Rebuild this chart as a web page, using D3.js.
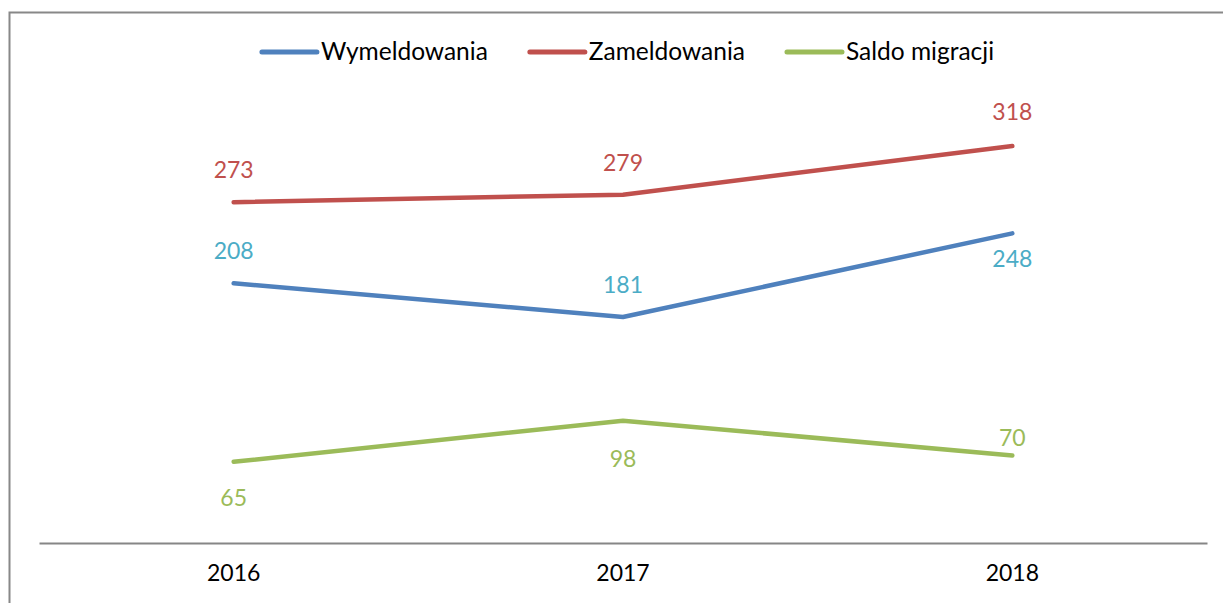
<!DOCTYPE html>
<html>
<head>
<meta charset="utf-8">
<script src="https://cdn.jsdelivr.net/npm/d3@7"></script>
<style>
  body { margin: 0; background: #fff; }
  text { font-family: Lato, "Open Sans", sans-serif; }
</style>
</head>
<body>
<svg id="chart"></svg>
<script>
var years = ["2016", "2017", "2018"];
var seriesNames = ["Wymeldowania", "Zameldowania", "Saldo migracji"];
var wymeldowania = [208, 181, 248];
var zameldowania = [273, 279, 318];
var saldo = [65, 98, 70];

var lineColors = ["#4F81BD", "#C0504D", "#9BBB59"],
    labelColors = ["#4BACC6", "#C0504D", "#9BBB59"],
    // baseline offset of each data label from its point
    labelDy = [[-24, -24, 34], [-24, -24, -26], [44, 46, -10]];

var width = 1223, height = 603;
var plot = {left: 39, right: 1207, top: 106, bottom: 543};

var svg = d3.select("#chart")
    .attr('width', width)
    .attr('height', height);

// outer chart frame
svg.append("rect")
    .attr('x', 9.5).attr('y', 12.5)
    .attr('width', 1240).attr('height', 620)
    .style('fill', "none")
    .style('stroke', "#888")
    .style('stroke-width', "2px");

var x = d3.scaleBand().domain(years).range([plot.left, plot.right]);
var y = d3.scaleLinear().domain([0, 350]).range([plot.bottom, plot.top]);

var series = [wymeldowania, zameldowania, saldo];

// category axis
var xAxis = svg.append("g")
    .attr('transform', "translate(0," + plot.bottom + ")")
    .call(d3.axisBottom(x).tickSize(0).tickPadding(22));
xAxis.select("path.domain")
    .style('stroke', "#868686")
    .style('stroke-width', "2px");
xAxis.selectAll("text")
    .style('font-size', "23px")
    .style('fill', "#000");

var line = d3.line()
    .x(function(d, i){ return x(years[i]) + x.bandwidth() / 2; })
    .y(function(d){ return y(d); });

series.forEach(function(s, k){
    svg.append("path")
        .datum(s)
        .attr('d', line)
        .style('fill', "none")
        .style('stroke', lineColors[k])
        .style('stroke-width', "4.5px")
        .style('stroke-linecap', "round")
        .style('stroke-linejoin', "round");

    svg.selectAll("text.lbl" + k)
        .data(s)
        .enter()
        .append("text")
        .attr('class', "lbl" + k)
        .attr('x', function(d, i){ return x(years[i]) + x.bandwidth() / 2; })
        .attr('y', function(d, i){ return y(d) + labelDy[k][i]; })
        .attr('text-anchor', "middle")
        .style('font-size', "23px")
        .style('fill', labelColors[k])
        .text(function(d){ return d; });
});

// legend
var legend = svg.append("g");
var lx = 0;
seriesNames.forEach(function(name, k){
    var g = legend.append("g").attr('transform', "translate(" + lx + ",0)");
    g.append("line")
        .attr('x1', 0).attr('x2', 55)
        .attr('y1', 0).attr('y2', 0)
        .style('stroke', lineColors[k])
        .style('stroke-width', "5px")
        .style('stroke-linecap', "round");
    var t = g.append("text")
        .attr('x', 59).attr('y', 8)
        .style('font-size', "24.5px")
        .style('fill', "#000")
        .text(name);
    lx += 59 + t.node().getComputedTextLength() + 42;
});
var legendWidth = lx - 42;
legend.attr('transform', "translate(" + (628 - legendWidth / 2) + ",52)");
</script>
</body>
</html>
